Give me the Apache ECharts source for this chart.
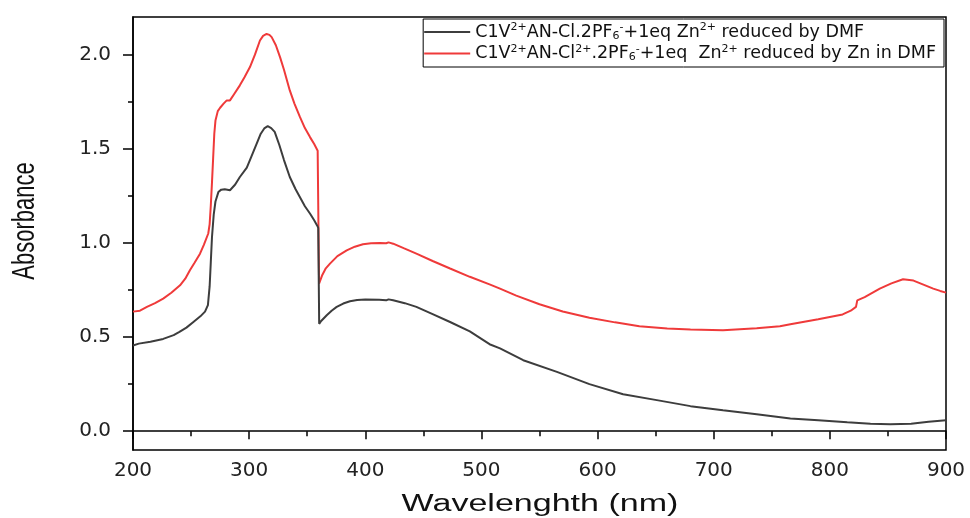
<!DOCTYPE html>
<html>
<head>
<meta charset="utf-8">
<script src="https://cdn.jsdelivr.net/npm/echarts@6/dist/echarts.min.js"></script>
<style>html,body{margin:0;padding:0;background:#fff}#c{width:970px;height:518px}</style>
</head>
<body>
<div id="c"></div>
<script>
// ---- data ----
const xTicks = [200, 300, 400, 500, 600, 700, 800, 900];
const yTicks = [0.0, 0.5, 1.0, 1.5, 2.0];
const yMinorTicks = [0.25, 0.75, 1.25, 1.75];

const blackWl = [200,205,215,226,235,240,246,252,258,262,264.5,266,267,268,269.5,271,273.5,276,279,283.5,288,292,298,302,306.5,310,313,316,319,322,326,330,335,340,344,348,352.5,356,358.5,359.5,360.3,362,366.8,371,375.4,381,386.8,393,400,412,418,420,424,434,444,458,473,490,507,516,536,565,593,622,651,680,708,737,766,790,815,835,852,870,885,900];
const blackAbs = [0.455,0.465,0.475,0.49,0.51,0.527,0.55,0.58,0.61,0.635,0.67,0.77,0.90,1.03,1.15,1.22,1.27,1.283,1.285,1.28,1.31,1.35,1.40,1.46,1.527,1.58,1.608,1.62,1.61,1.59,1.52,1.44,1.35,1.285,1.24,1.195,1.155,1.12,1.093,1.08,0.57,0.585,0.616,0.64,0.66,0.678,0.69,0.697,0.70,0.698,0.695,0.70,0.695,0.68,0.66,0.622,0.58,0.53,0.462,0.44,0.377,0.315,0.25,0.196,0.165,0.133,0.111,0.09,0.067,0.058,0.047,0.04,0.037,0.04,0.05,0.058];

const redWl = [200,206,212,219,226,233,240.5,245,249,253,257.7,261,264.8,266,267,268,269,270,271,273,275,278,280.7,283.5,287,292,296,300.7,305,309.3,312,315,317.5,319.4,323,326.6,330,335,339,343.8,348,352.4,356,359,360.2,363,366,369.6,376,384,391,398,405,412.7,418,420,424,433,444,458,473,490,507,516,530,550,570,593,615,636,660,680,708,737,757,766,790,811,818,822.5,823.6,830,843,853,863,872,880,889,895,900];
const redAbs = [0.635,0.64,0.66,0.68,0.704,0.735,0.775,0.81,0.855,0.895,0.943,0.99,1.05,1.10,1.20,1.32,1.45,1.58,1.65,1.70,1.718,1.74,1.757,1.757,1.79,1.837,1.88,1.934,2.0,2.075,2.10,2.11,2.105,2.093,2.05,1.987,1.92,1.81,1.74,1.668,1.61,1.562,1.525,1.49,0.784,0.83,0.865,0.89,0.93,0.96,0.98,0.993,0.998,1.0,0.998,1.003,0.996,0.972,0.943,0.904,0.864,0.82,0.78,0.757,0.72,0.674,0.636,0.603,0.578,0.557,0.545,0.54,0.536,0.547,0.557,0.568,0.594,0.62,0.64,0.66,0.695,0.712,0.757,0.785,0.807,0.80,0.78,0.757,0.745,0.736];

const seriesNames = ['black', 'red'];

const zip = (a, b) => a.map((v, i) => [v, b[i]]);

const rich = {
  n: {fontFamily: 'DejaVu Sans', fontSize: 17.5, color: '#111', lineHeight: 20},
  sup: {fontFamily: 'DejaVu Sans', fontSize: 11, color: '#111', verticalAlign: 'top', lineHeight: 20, padding: [0, 0, 7, 0]},
  sub: {fontFamily: 'DejaVu Sans', fontSize: 11, color: '#111', lineHeight: 20, padding: [8, 0, 0, 0]}
};
const legendText = {
  black: '{n|C1V}{sup|2+}{n|AN-Cl.2PF}{sub|6}{sup|-}{n|+1eq Zn}{sup|2+}{n| reduced by DMF}',
  red: '{n|C1V}{sup|2+}{n|AN-Cl}{sup|2+}{n|.2PF}{sub|6}{sup|-}{n|+1eq  Zn}{sup|2+}{n| reduced by Zn in DMF}'
};

const chart = echarts.init(document.getElementById('c'), null, {renderer: 'canvas'});
chart.setOption({
  animation: false,
  backgroundColor: '#fff',
  grid: {left: 133, right: 24, top: 17, bottom: 68, outerBoundsMode: 'none', containLabel: false,
         show: true, borderColor: '#000', borderWidth: 1.5, backgroundColor: 'transparent'},
  legend: {
    orient: 'vertical', right: 26, top: 19,
    data: seriesNames,
    icon: 'rect', itemWidth: 46, itemHeight: 2, itemGap: 2,
    padding: [3, 8, 4, 1],
    borderColor: '#000', borderWidth: 1, backgroundColor: '#fff',
    formatter: n => legendText[n],
    textStyle: {rich: rich, fontFamily: 'DejaVu Sans', fontSize: 17.5}
  },
  xAxis: {
    type: 'value', min: 200, max: 900, interval: 100,
    axisLine: {lineStyle: {color: '#000', width: 1.5}},
    axisTick: {length: 8, lineStyle: {color: '#000', width: 1.5}},
    minorTick: {show: true, splitNumber: 2, length: 5, lineStyle: {color: '#000', width: 1.5}},
    axisLabel: {customValues: xTicks, fontFamily: 'DejaVu Sans', fontSize: 20, color: '#222', margin: 11, showMinLabel: true, showMaxLabel: true},
    splitLine: {show: false}
  },
  yAxis: [{
    type: 'value', min: -0.1, max: 2.2,
    axisLine: {show: true, lineStyle: {color: '#000', width: 1.5}},
    axisTick: {show: true, customValues: yTicks, length: 10, lineStyle: {color: '#000', width: 1.5}},
    axisLabel: {customValues: yTicks, formatter: v => v.toFixed(1), fontFamily: 'DejaVu Sans', fontSize: 20, color: '#222', margin: 22},
    splitLine: {show: false}
  }, {
    type: 'value', min: -0.1, max: 2.2, position: 'left',
    axisLine: {show: false},
    axisTick: {show: true, customValues: yMinorTicks, length: 5, lineStyle: {color: '#000', width: 1.5}},
    axisLabel: {show: false},
    splitLine: {show: false}
  }],
  graphic: [{
    type: 'text', x: 25, y: 221, rotation: Math.PI / 2, scaleY: 1.45,
    style: {text: 'Absorbance', font: '22px "Liberation Sans"', fill: '#111', align: 'center', verticalAlign: 'middle', textAlign: 'center', textVerticalAlign: 'middle'}
  }, {
    type: 'text', x: 540, y: 505, scaleX: 1.48,
    style: {text: 'Wavelenghth (nm)', font: '23px "Liberation Sans"', fill: '#111', align: 'center', verticalAlign: 'middle', textAlign: 'center', textVerticalAlign: 'middle'}
  }],
  series: [{
    name: 'black', type: 'line', data: zip(blackWl, blackAbs), showSymbol: false, symbol: 'none',
    lineStyle: {color: '#3d3d3d', width: 2}, itemStyle: {color: '#3d3d3d'}, z: 3
  }, {
    name: 'red', type: 'line', data: zip(redWl, redAbs), showSymbol: false, symbol: 'none',
    lineStyle: {color: '#ef3a3a', width: 2}, itemStyle: {color: '#ef3a3a'}, z: 2
  }]
});
</script>
</body>
</html>
